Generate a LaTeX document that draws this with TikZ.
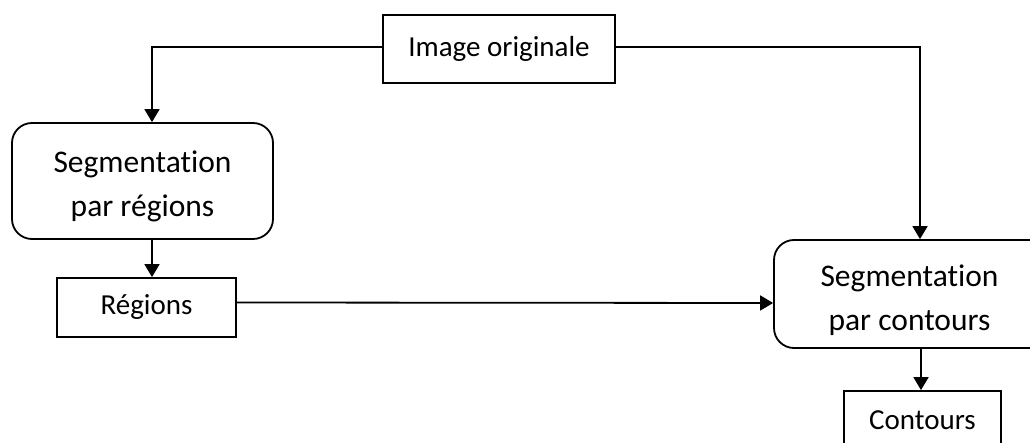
\documentclass[tikz,border=0pt]{standalone}
\usepackage{fontspec}
\setmainfont{Carlito}[Ligatures=NoCommon]
\usetikzlibrary{arrows.meta}
\tikzset{
  box/.style={draw, line width=1.8bp, rectangle, inner sep=0pt, align=center,
              font=\fontsize{29bp}{44bp}\selectfont},
  rbox/.style={draw, line width=1.8bp, rectangle, rounded corners=20bp, inner sep=0pt},
  rtext/.style={inner sep=0pt, align=center, font=\fontsize{31.5bp}{44bp}\selectfont},
  conn/.style={line width=1.8bp, -{Triangle[length=13bp,width=15bp]}}
}
\begin{document}
\begin{tikzpicture}[x=1bp,y=-1bp]
\useasboundingbox (0,0) rectangle (1030,443);
\clip (0,0) rectangle (1030,443);
\node[box, minimum width=232bp, minimum height=68bp] (img) at (499,49) {Image originale};
\node[rbox, minimum width=261bp, minimum height=116bp] (segr) at (142.5,181) {};
\node[rtext] (segrt) at (142.5,186) {Segmentation\\par régions};
\node[box, minimum width=179bp, minimum height=59bp] (reg) at (146.5,307.5) {Régions};
\node[rbox, minimum width=320bp, minimum height=108bp] (segc) at (934,294) {};
\node[rtext] (segct) at (909.5,300) {Segmentation\\par contours};
\node[box, minimum width=157bp, minimum height=59bp] (cont) at (922.5,420.5) {Contours};
\coordinate (cl) at (152,47);
\coordinate (cr) at (920,47);
\coordinate (rb) at (152,239);
\coordinate (cb) at (921,348);
\draw[conn] ([yshift=2bp]img.west) -- (cl) -- (cl |- segr.north);
\draw[conn] ([yshift=2bp]img.east) -- (cr) -- (cr |- segc.north);
\draw[conn] (rb) -- (rb |- reg.north);
\draw[conn] ([yshift=5bp]reg.east) -- ([yshift=-9bp]segc.west);
\draw[conn] (cb) -- (cb |- cont.north);
\end{tikzpicture}
\end{document}
